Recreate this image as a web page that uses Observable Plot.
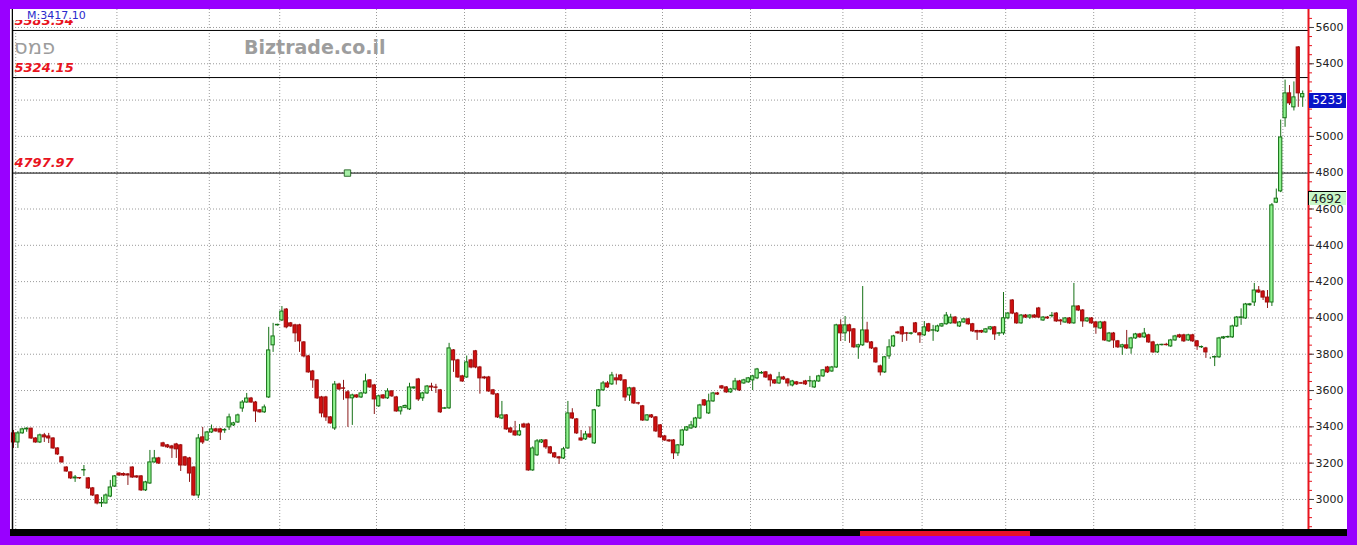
<!DOCTYPE html>
<html><head><meta charset="utf-8">
<script src="https://cdn.jsdelivr.net/npm/d3@7"></script>
<script src="https://cdn.jsdelivr.net/npm/@observablehq/plot@0.6"></script>
<style>
html,body{margin:0;padding:0;background:#9900ff;width:1357px;height:545px;overflow:hidden;font-family:"DejaVu Sans",sans-serif}
#wrap{position:absolute;left:10px;top:9px;width:1337px;height:527px;background:#fff;overflow:hidden}
#wrap svg{position:absolute;left:0;top:0}
.ov{position:absolute;white-space:nowrap}
</style></head>
<body>
<div id="wrap"></div>
<script>
// ---- data ----
const open = [3364,3314,3364,3386,3390,3336,3314,3353,3347,3336,3281,3232,3176,3149,3116,3118,3160,3116,3061,3022,2978,2978,3016,3071,3143,3140,3138,3176,3127,3127,3050,3088,3204,3226,3309,3298,3292,3303,3298,3232,3226,3176,3022,3342,3325,3369,3386,3386,3380,3397,3408,3424,3501,3534,3556,3534,3491,3480,3562,3849,3959,3986,4046,3970,3959,3959,3865,3788,3705,3656,3562,3562,3452,3391,3633,3612,3590,3557,3573,3562,3584,3656,3628,3513,3573,3557,3595,3562,3485,3505,3496,3612,3661,3557,3584,3622,3617,3601,3500,3502,3821,3766,3678,3672,3766,3816,3727,3672,3672,3601,3579,3446,3463,3391,3375,3353,3413,3413,3160,3243,3314,3325,3287,3254,3232,3226,3281,3474,3441,3336,3331,3358,3309,3513,3601,3639,3634,3667,3683,3656,3573,3612,3530,3513,3435,3463,3452,3408,3347,3325,3325,3254,3298,3380,3391,3397,3446,3546,3474,3540,3584,3623,3617,3590,3606,3650,3639,3645,3656,3667,3694,3700,3683,3656,3639,3672,3661,3628,3645,3640,3650,3650,3617,3650,3678,3727,3705,3727,3959,3915,3959,3937,3838,3849,3931,3865,3832,3733,3700,3788,3843,3920,3948,3915,3912,3970,3915,3904,3965,3930,3926,3953,3965,3970,4002,3953,3975,3992,3965,3928,3928,3920,3937,3948,3913,3915,3998,4096,4024,3970,4013,4002,4013,4052,3986,4002,4010,4024,3986,3975,3997,3970,4063,4041,3981,3997,3975,3942,3975,3871,3914,3871,3838,3849,3832,3887,3909,3893,3904,3865,3810,3850,3852,3843,3876,3904,3904,3876,3904,3871,3838,3832,3777,3782,3783,3887,3893,3893,3953,4000,3997,4070,4085,4151,4145,4112,4085,4635,4697,5100,5237,5160,5490,5215];
const high = [3380,3375,3392,3395,3392,3340,3360,3364,3364,3340,3284,3235,3180,3152,3132,3121,3187,3121,3066,3027,3011,3030,3105,3132,3146,3146,3143,3180,3130,3132,3100,3270,3270,3232,3315,3303,3298,3309,3303,3237,3232,3180,3358,3397,3375,3410,3392,3392,3390,3470,3425,3470,3545,3584,3562,3540,3495,3520,3948,3970,3965,4063,4052,3975,3965,3965,3870,3794,3711,3660,3568,3568,3457,3650,3640,3656,3600,3580,3578,3590,3690,3660,3634,3575,3578,3610,3600,3568,3512,3520,3640,3620,3667,3590,3628,3640,3634,3606,3507,3860,3826,3772,3684,3790,3772,3821,3733,3678,3678,3606,3584,3540,3468,3396,3430,3413,3420,3420,3290,3330,3330,3330,3292,3259,3237,3287,3540,3500,3446,3380,3375,3400,3496,3606,3650,3650,3700,3690,3688,3660,3618,3618,3535,3518,3468,3468,3457,3413,3353,3330,3330,3303,3386,3402,3430,3452,3524,3550,3580,3590,3590,3628,3622,3612,3667,3656,3662,3672,3684,3722,3705,3705,3690,3660,3700,3678,3667,3656,3650,3645,3656,3678,3656,3684,3716,3733,3733,3965,3990,4008,3965,3942,3855,4173,3976,3870,3838,3740,3788,3880,3904,3926,3953,3920,3920,3975,3920,3980,3970,3959,3960,3970,4030,4020,4008,3980,3998,3998,3970,3932,3932,3942,3953,3953,3920,4140,4030,4101,4030,4019,4019,4019,4019,4058,4008,4008,4030,4030,3992,4002,4002,4190,4068,4046,4002,4002,3981,3981,3981,3920,3920,3876,3855,3931,3893,3915,3915,3942,3910,3871,3855,3855,3860,3882,3904,3910,3910,3910,3910,3876,3845,3838,3783,3790,3893,3898,3900,3960,4008,4050,4080,4080,4190,4173,4151,4151,4630,4710,5090,5310,5280,5300,5495,5250];
const low = [3281,3281,3360,3370,3330,3310,3308,3314,3308,3276,3243,3200,3150,3110,3094,3110,3127,3055,3016,2970,2956,2975,3010,3066,3127,3127,3077,3116,3116,3044,3044,3083,3200,3193,3287,3281,3226,3226,3154,3182,3094,3016,3005,3303,3320,3364,3370,3325,3364,3380,3402,3419,3480,3530,3530,3424,3475,3474,3556,3810,3955,3980,3940,3948,3865,3810,3780,3695,3612,3551,3450,3430,3414,3380,3600,3546,3397,3408,3556,3556,3580,3612,3468,3507,3551,3551,3562,3480,3465,3500,3490,3606,3540,3540,3578,3595,3584,3474,3496,3496,3700,3667,3645,3667,3720,3720,3580,3660,3590,3573,3446,3440,3380,3364,3347,3348,3391,3155,3155,3237,3308,3276,3248,3226,3193,3220,3276,3440,3358,3320,3325,3336,3303,3507,3595,3612,3628,3630,3650,3540,3540,3523,3520,3430,3430,3446,3369,3336,3320,3314,3220,3237,3292,3375,3386,3391,3440,3512,3468,3535,3573,3606,3584,3584,3600,3595,3634,3640,3600,3660,3690,3667,3620,3634,3634,3656,3620,3620,3628,3634,3628,3617,3612,3645,3672,3694,3700,3722,3870,3870,3860,3832,3772,3843,3860,3826,3750,3680,3694,3772,3838,3910,3865,3871,3905,3915,3860,3898,3920,3871,3920,3948,3960,3965,3965,3948,3970,3960,3920,3876,3915,3915,3930,3876,3898,3904,3990,4018,3965,3965,3997,3992,3997,3997,3981,3992,4000,3975,3959,3970,3965,3965,4035,3948,3975,3965,3910,3937,3871,3865,3832,3832,3794,3826,3800,3882,3887,3887,3860,3805,3805,3845,3845,3838,3871,3887,3865,3871,3865,3821,3832,3777,3772,3732,3777,3882,3887,3887,3948,3959,3992,4065,4063,4135,4096,4052,4063,4630,4690,5050,5170,5140,5160,5160];
const close = [3314,3364,3386,3390,3336,3314,3353,3342,3336,3281,3248,3204,3154,3116,3121,3116,3162,3061,3022,2978,2981,3022,3066,3127,3132,3132,3132,3121,3121,3050,3094,3204,3226,3198,3292,3287,3281,3276,3187,3187,3143,3022,3336,3314,3369,3386,3375,3369,3383,3452,3419,3463,3534,3556,3534,3485,3480,3507,3821,3898,3962,4035,3948,3953,3915,3871,3788,3700,3656,3557,3474,3452,3419,3633,3606,3610,3557,3573,3562,3584,3650,3617,3551,3568,3557,3595,3568,3485,3507,3515,3617,3617,3551,3584,3622,3617,3615,3480,3502,3832,3766,3672,3650,3755,3727,3727,3667,3667,3595,3579,3452,3463,3386,3369,3353,3375,3397,3160,3281,3320,3325,3287,3254,3232,3226,3276,3474,3446,3364,3325,3358,3342,3491,3601,3639,3617,3683,3656,3656,3562,3612,3529,3528,3435,3463,3452,3375,3342,3325,3320,3254,3298,3380,3397,3408,3446,3518,3518,3540,3584,3578,3612,3590,3606,3650,3601,3656,3667,3678,3716,3697,3672,3656,3639,3672,3661,3639,3650,3634,3638,3634,3652,3650,3678,3711,3700,3727,3959,3915,3959,3926,3838,3849,3931,3865,3832,3755,3700,3783,3838,3898,3915,3909,3913,3915,3920,3904,3948,3926,3932,3953,3965,4013,4002,3970,3975,3992,3965,3926,3920,3920,3937,3948,3909,3915,3998,4024,4024,3970,4013,4002,4013,4002,4002,4002,3997,4012,3981,3981,3997,3970,4063,4041,3981,3997,3970,3948,3975,3876,3914,3876,3838,3849,3832,3887,3909,3893,3914,3865,3810,3849,3852,3850,3876,3898,3893,3871,3904,3871,3843,3840,3810,3777,3785,3887,3893,3895,3953,4002,4003,4074,4075,4151,4140,4112,4085,4620,4657,4994,5237,5182,5215,5237,5233];
const monthBreaks = [0.5,23.5,44.5,60.5,82.5,102.5,125.5,147.5,167.5,188.5,206.5,225.5,245.5,268.5,288.5];
const yTicks = [3000,3200,3400,3600,3800,4000,4200,4400,4600,4800,5000,5200,5400,5600];
const minorTicks = d3.range(2850, 5700, 50);
const levels = [5583.54, 5324.15, 4797.97];
const levelLabels = ["5583.54", "5324.15", "4797.97"];
const markerIndex = [75.9];
const lastPrice = 5233;
const prevPrice = 4692;

const data = close.map((c, i) => ({i, o: open[i], h: high[i], l: low[i], c}));
const xDomain = [-0.23, 294.32];
const yDomain = [2829, 5699];
const up = d => d.c >= d.o;

const chart = Plot.plot({
  width: 1337, height: 527,
  marginLeft: 2, marginRight: 39, marginTop: 0, marginBottom: 6,
  style: {fontFamily: "DejaVu Sans, sans-serif", fontSize: "11px", color: "#222", background: "transparent"},
  x: {domain: xDomain, axis: null},
  y: {domain: yDomain},
  marks: [
    Plot.ruleY(yTicks, {stroke: "#9a9a9a", strokeDasharray: "1,2"}),
    Plot.ruleX(monthBreaks, {stroke: "#9a9a9a", strokeDasharray: "1,2"}),
    Plot.ruleY(levels, {stroke: "#000", strokeWidth: 1}),
    Plot.text(levels, {x: xDomain[0], y: d => d, text: (d, i) => levelLabels[i], textAnchor: "start", dx: 2, dy: -10, fill: "#e8141e", fontWeight: "bold", fontStyle: "italic", fontSize: 13}),
    Plot.ruleX(data, {x: "i", y1: "l", y2: "h", stroke: d => up(d) ? "#157015" : "#8a1a1a", strokeWidth: 1}),
    Plot.rect(data, {x1: d => d.i - 0.37, x2: d => d.i + 0.37, y1: "o", y2: "c",
      fill: d => up(d) ? "#90f490" : "#d01010", stroke: d => up(d) ? "#157015" : "#a00c0c", strokeWidth: 1}),
    Plot.dot(markerIndex, {x: d => d, y: levels[2], symbol: "square", r: 3.6, fill: "#a6eea6", stroke: "#2f6f2f", strokeWidth: 1}),
    Plot.ruleX([xDomain[0]], {stroke: "#000", strokeWidth: 1.5}),
    Plot.ruleX([xDomain[1]], {stroke: "#e8141e", strokeWidth: 2}),
    Plot.axisY({anchor: "right", ticks: minorTicks, tickSize: 3, tickFormat: () => "", stroke: "#e8141e", label: null}),
    Plot.axisY({anchor: "right", ticks: yTicks, tickSize: 5, tickPadding: 2, tickFormat: d => String(d), fontSize: 11, label: null, stroke: "#444", fill: "#222"})
  ]
});
const wrap = document.getElementById("wrap");
wrap.appendChild(chart);

const ys = chart.scale("y");
function addDiv(html, css) {
  const d = document.createElement("div");
  d.className = "ov"; d.innerHTML = html;
  Object.assign(d.style, css);
  wrap.appendChild(d);
  return d;
}
// header strip hides the top of the first level label
addDiv("", {left: "3px", top: "0px", width: "85px", height: "11px", background: "#fff"});
addDiv("M:3417.10", {left: "17px", top: "-1px", fontSize: "11px", color: "#2a2acc", lineHeight: "13px", paddingTop: "1px"});
addDiv("Biztrade.co.il", {left: "234px", top: "27px", fontSize: "19px", fontWeight: "bold", color: "#9d9d9d"});
addDiv("פמס", {left: "4px", top: "26px", fontSize: "21px", color: "#9d9d9d", direction: "rtl"});
// price boxes on the right axis
addDiv(String(lastPrice), {left: "1299px", top: (ys.apply(lastPrice) - 1) + "px", width: "37px", height: "15px", lineHeight: "15px", textAlign: "center", background: "#0a14c8", color: "#fff", fontSize: "12px"});
addDiv(String(prevPrice), {left: "1298px", top: (ys.apply(prevPrice) - 1) + "px", width: "38px", height: "14px", lineHeight: "14px", textAlign: "left", paddingLeft: "2px", boxSizing: "border-box", background: "#c8f7c8", color: "#222", fontSize: "12px", borderTop: "1px solid #000", borderLeft: "1px solid #000"});
// bottom band
addDiv("", {left: "0px", top: "520px", width: "1337px", height: "7px", background: "#000"});
addDiv("", {left: "850px", top: "522px", width: "170px", height: "5px", background: "#e8102a"});
</script>
</body></html>
